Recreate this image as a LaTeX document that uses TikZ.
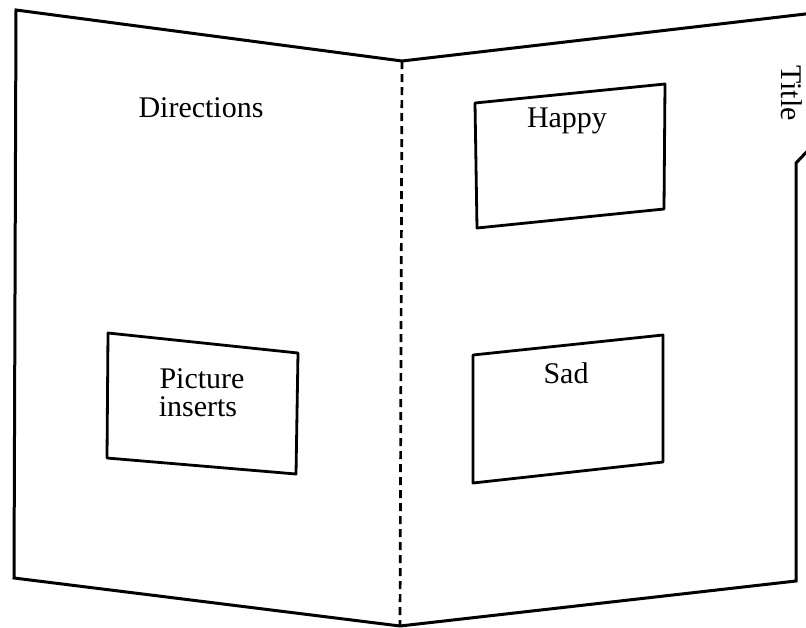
\documentclass[tikz,border=0pt]{standalone}
\usepackage{fontspec}
\setmainfont{Liberation Serif}
\begin{document}
\begin{tikzpicture}[x=1pt,y=-1pt,
  edge/.style={line width=3pt,line join=miter},
  fold/.style={line width=2.7pt,dash pattern=on 8pt off 5pt},
  card/.style={line width=2.8pt,line join=round},
  label/.style={font=\fontsize{30}{32}\selectfont,inner sep=0pt}]
\useasboundingbox (0,0) rectangle (806,627);
\clip (0,0) rectangle (806,627);
% folder outline
\coordinate (tl) at (16,10);
\coordinate (bl) at (14,578);
\coordinate (ft) at (402,61);
\coordinate (fb) at (400,626);
\coordinate (tr) at (814,13);
\coordinate (tabtop) at (814,144);
\coordinate (tabcut) at (796,163);
\coordinate (br) at (796,581);
\draw[edge] (ft) -- (tl) -- (bl) -- (fb);
\draw[edge] (ft) -- (tr);
\draw[edge] (tabtop) -- (tabcut) -- (br) -- (fb);
\draw[fold] (ft) -- (fb);
% pockets
\draw[card] (108,333) -- (298,353) -- (296,474) -- (107,458) -- cycle;
\draw[card] (475,103) -- (665,84) -- (664,209) -- (477,228) -- cycle;
\draw[card] (473,355) -- (663,335) -- (663,462) -- (473,483) -- cycle;
% labels
\node[label,anchor=base] (pic) at (202,388) {Picture};
\node[label,anchor=base] (ins) at (198,416) {inserts};
\node[label] (dir) at (201,108) {Directions};
\node[label] (happy) at (567,121) {Happy};
\node[label] (sad) at (566,373) {Sad};
\node[label,rotate=-90] (title) at (792,93) {Title};
\end{tikzpicture}
\end{document}
